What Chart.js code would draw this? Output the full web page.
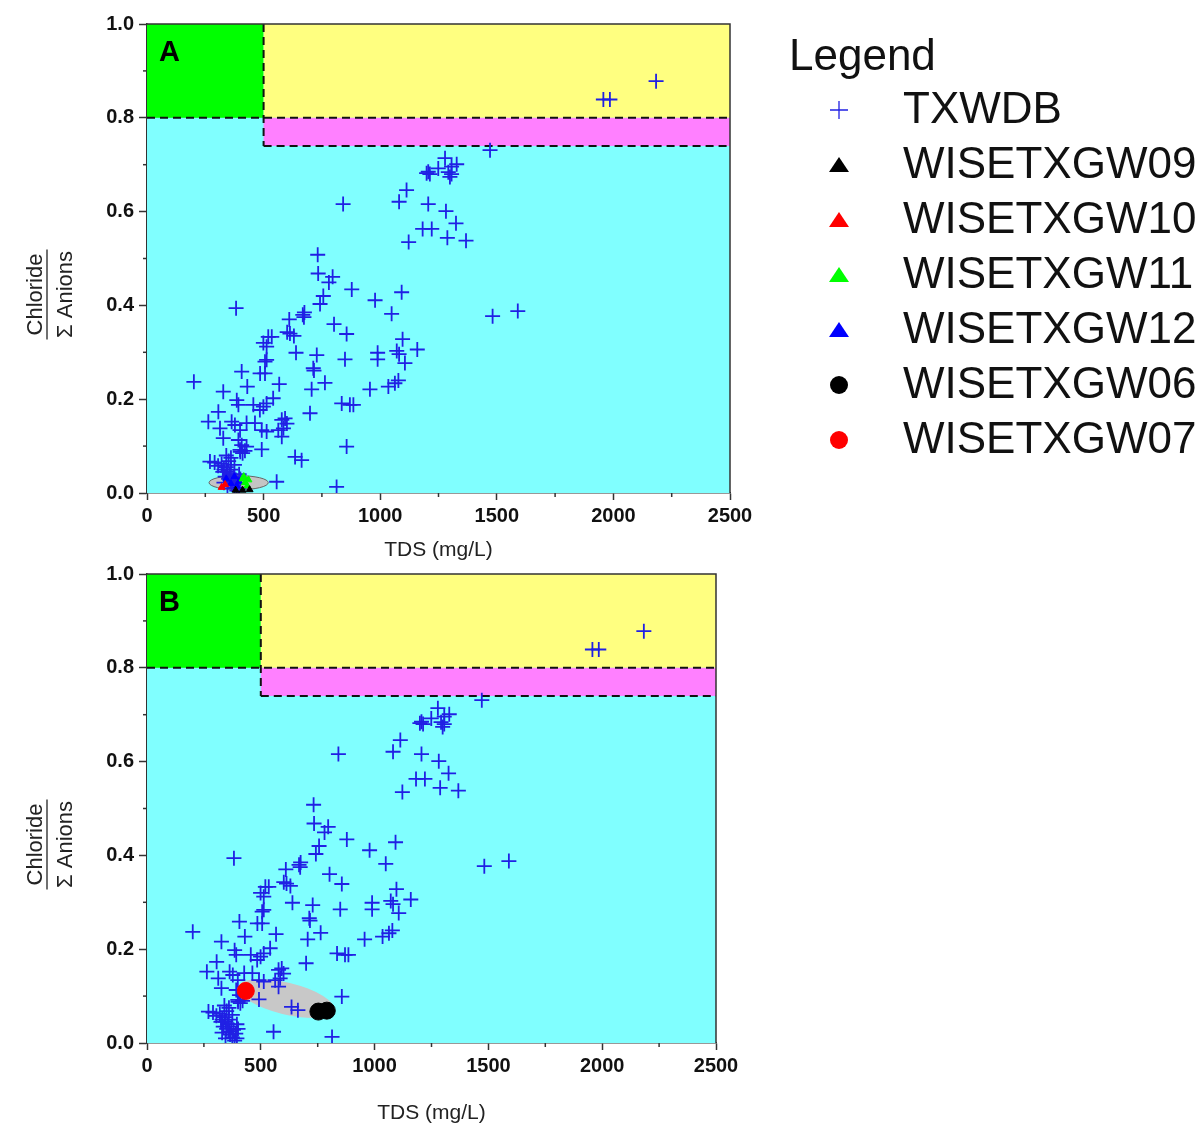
<!DOCTYPE html>
<html><head><meta charset="utf-8">
<script src="https://cdn.jsdelivr.net/npm/chart.js@4.4.1/dist/chart.umd.min.js"></script>
<style>
html,body{margin:0;padding:0;background:#fff;width:1204px;height:1128px;overflow:hidden;font-family:"Liberation Sans",Arial,sans-serif;}
#ca{position:absolute;left:0;top:0;}
#cb{position:absolute;left:0;top:550px;}
#legend{position:absolute;left:0;top:0;width:1204px;height:480px;pointer-events:none;}
.lg{position:absolute;font-size:44px;line-height:44px;color:#111;white-space:nowrap;}
svg.mk{position:absolute;}
</style></head><body>
<canvas id="ca" width="770" height="563"></canvas>
<canvas id="cb" width="756" height="578"></canvas>
<div id="legend"></div>
<script>
// ---------- DATA ----------
const txwdbTDS = [2183,1957,1985,1471,1278,1328,1306,1249,1206,1213,1199,1292,1306,1299,1113,1081,1206,841,1282,1325,1182,1221,1288,1368,1122,732,
 734,796,780,878,756,742,978,1092,1049,1482,1590,382,675,673,668,610,802,613,630,601,856,1096,1159,1071,1081,1106,989,989,849,728,713,639,
 499,520,535,513,513,506,406,485,506,716,201,327,430,567,706,763,956,1035,1063,1078,541,385,392,306,263,835,870,885,699,456,484,499,513,
 363,377,399,427,463,578,592,585,563,492,513,313,327,392,406,399,578,427,492,856,635,663,556,813,270,600,
 290,305,320,330,340,345,355,335,350,360,370,380,365,375,390,385,345,330,395,400,360,375,410,420,400,350,360,340,325,395];
const txwdbCl = [0.878,0.839,0.839,0.731,0.714,0.701,0.696,0.692,0.685,0.680,0.682,0.684,0.680,0.674,0.646,0.621,0.616,0.616,0.601,0.575,0.563,0.563,0.544,0.538,0.535,0.508,
 0.468,0.461,0.449,0.434,0.420,0.403,0.411,0.428,0.382,0.377,0.388,0.394,0.385,0.375,0.380,0.370,0.360,0.340,0.335,0.343,0.339,0.328,0.306,0.303,0.296,0.277,0.299,0.285,0.285,0.294,0.266,0.299,
 0.320,0.333,0.333,0.312,0.284,0.280,0.259,0.255,0.255,0.261,0.237,0.216,0.227,0.232,0.221,0.235,0.221,0.227,0.234,0.240,0.202,0.198,0.188,0.173,0.152,0.191,0.188,0.188,0.170,0.188,0.177,0.184,0.191,
 0.152,0.145,0.134,0.149,0.149,0.156,0.159,0.138,0.134,0.134,0.131,0.138,0.117,0.113,0.102,0.092,0.120,0.099,0.093,0.099,0.077,0.070,0.024,0.013,0.067,0.148,
 0.065,0.058,0.062,0.050,0.055,0.045,0.040,0.035,0.030,0.025,0.035,0.028,0.018,0.012,0.020,0.005,0.010,0.022,0.040,0.030,0.050,0.060,0.085,0.090,0.088,0.068,0.075,0.080,0.045,0.010];
const gw09TDS = [380,410,440];          const gw09Cl = [0.006,0.006,0.007];
const gw10TDS = [320,335];              const gw10Cl = [0.012,0.018];
const gw11TDS = [410,420,430,415,435];  const gw11Cl = [0.030,0.022,0.015,0.035,0.028];
const gw12TDS = [340,360,375,385,395];  const gw12Cl = [0.030,0.020,0.035,0.015,0.025];
const gw06TDS = [753,790];              const gw06Cl = [0.067,0.069];
const gw07TDS = [434];                  const gw07Cl = [0.111];

// classification zones (TDS range, Cl ratio range)
const zoneNames = ['fresh','freshHighCl','saline','transition'];
const zoneTDS   = [[0,2500],[0,500],[500,2500],[500,2500]];
const zoneCl    = [[0,1],[0.8,1],[0.8,1],[0.74,0.8]];
// dashed boundaries [tds0, cl0, tds1, cl1]
const boundaryLines = [[0,0.8,2500,0.8],[500,1,500,0.74],[500,0.74,2500,0.74]];
// ellipses: center, major-axis end, minor-axis end (data units)
const ellipseA = [[393,0.022],[520,0.022],[393,0.037]];
const ellipseB = [[611,0.095],[822,0.070],[594,0.128]];

const xTickVals = [0,250,500,750,1000,1250,1500,1750,2000,2250,2500];
const xTickLabels = ['0','','500','','1000','','1500','','2000','','2500'];
const yTickVals = [0,0.1,0.2,0.3,0.4,0.5,0.6,0.7,0.8,0.9,1.0];
const yTickLabels = ['0.0','','0.2','','0.4','','0.6','','0.8','','1.0'];

const seriesNames = ['TXWDB','WISETXGW09','WISETXGW10','WISETXGW11','WISETXGW12','WISETXGW06','WISETXGW07'];
// ---------- STYLE ----------
const FONT = '"Liberation Sans", Arial, sans-serif';
const zoneColors = ['#80FFFF','#00FF00','#FFFF80','#FF80FF'];
const crossColor = '#2020E4';
const seriesStyle = {
  TXWDB:{shape:'cross',color:crossColor},
  WISETXGW09:{shape:'triangle',color:'#000000'},
  WISETXGW10:{shape:'triangle',color:'#FF0000'},
  WISETXGW11:{shape:'triangle',color:'#00FF00'},
  WISETXGW12:{shape:'triangle',color:'#0000FF'},
  WISETXGW06:{shape:'circle',color:'#000000'},
  WISETXGW07:{shape:'circle',color:'#FF0000'}
};
const AXC = '#333333';

function pts(xs, ys){ return xs.map((x,i)=>({x:x,y:ys[i]})); }

function isMajorTick(arrVals, arrLabels, v){
  const i = arrVals.findIndex(t=>Math.abs(t-v)<1e-6);
  return i>=0 && arrLabels[i] !== '';
}

const backgroundPlugin = {
  id:'zones',
  beforeDatasetsDraw(chart, args, opts){
    const {ctx, chartArea:ca, scales:{x,y}} = chart;
    ctx.save();
    ctx.beginPath(); ctx.rect(ca.left, ca.top, ca.right-ca.left, ca.bottom-ca.top); ctx.clip();
    zoneTDS.forEach((r,i)=>{
      const x0=x.getPixelForValue(r[0]), x1=x.getPixelForValue(r[1]);
      const y0=y.getPixelForValue(zoneCl[i][1]), y1=y.getPixelForValue(zoneCl[i][0]);
      ctx.fillStyle = zoneColors[i];
      ctx.fillRect(x0,y0,x1-x0,y1-y0);
    });
    const e = opts.ellipse;
    if (e){
      const cx=x.getPixelForValue(e[0][0]), cy=y.getPixelForValue(e[0][1]);
      const ax=x.getPixelForValue(e[1][0])-cx, ay=y.getPixelForValue(e[1][1])-cy;
      const bx=x.getPixelForValue(e[2][0])-cx, by=y.getPixelForValue(e[2][1])-cy;
      ctx.beginPath();
      ctx.ellipse(cx,cy,Math.hypot(ax,ay),Math.hypot(bx,by),Math.atan2(ay,ax),0,Math.PI*2);
      ctx.fillStyle = opts.ellipseFill;
      ctx.fill();
      if (opts.ellipseStroke){ ctx.strokeStyle=opts.ellipseStroke; ctx.lineWidth=1; ctx.stroke(); }
    }
    ctx.restore();
    ctx.save();
    ctx.strokeStyle='#111'; ctx.lineWidth=2; ctx.setLineDash([8,5]);
    boundaryLines.forEach(l=>{
      ctx.beginPath();
      ctx.moveTo(x.getPixelForValue(l[0]), y.getPixelForValue(l[1]));
      ctx.lineTo(x.getPixelForValue(l[2]), y.getPixelForValue(l[3]));
      ctx.stroke();
    });
    ctx.restore();
    ctx.save();
    ctx.fillStyle='#000'; ctx.font='bold 29px '+FONT; ctx.textBaseline='alphabetic'; ctx.textAlign='left';
    ctx.fillText(opts.letter, ca.left+12, ca.top+37);
    ctx.restore();
  },
  afterDraw(chart){
    const {ctx, chartArea:ca, scales:{x,y}} = chart;
    ctx.save();
    ctx.strokeStyle=AXC; ctx.lineWidth=1.5;
    ctx.beginPath(); ctx.moveTo(ca.left,ca.top); ctx.lineTo(ca.right,ca.top); ctx.lineTo(ca.right,ca.bottom); ctx.stroke();
    x.ticks.forEach(t=>{ if(!isMajorTick(xTickVals,xTickLabels,t.value)){ const px=x.getPixelForValue(t.value); ctx.beginPath(); ctx.moveTo(px,ca.bottom); ctx.lineTo(px,ca.bottom+4); ctx.stroke(); }});
    y.ticks.forEach(t=>{ if(!isMajorTick(yTickVals,yTickLabels,t.value)){ const py=y.getPixelForValue(t.value); ctx.beginPath(); ctx.moveTo(ca.left-4,py); ctx.lineTo(ca.left,py); ctx.stroke(); }});
    const cy=(ca.top+ca.bottom)/2+36;
    ctx.fillStyle='#222'; ctx.font='22px '+FONT; ctx.textAlign='center'; ctx.textBaseline='alphabetic';
    ctx.save(); ctx.translate(42,cy); ctx.rotate(-Math.PI/2); ctx.fillText('Chloride',0,0); ctx.restore();
    ctx.save(); ctx.translate(72,cy); ctx.rotate(-Math.PI/2); ctx.fillText('\u03A3 Anions',0,0); ctx.restore();
    ctx.strokeStyle='#222'; ctx.lineWidth=1.3;
    ctx.beginPath(); ctx.moveTo(47,cy-45); ctx.lineTo(47,cy+45); ctx.stroke();
    ctx.restore();
  }
};

function ds(name, xs, ys, order){
  const s = seriesStyle[name];
  const o = {label:name, data:pts(xs,ys), order:order, showLine:false};
  if (s.shape==='cross'){
    Object.assign(o,{pointStyle:'cross', pointRadius:7.5, pointBorderColor:s.color, pointBackgroundColor:s.color, pointBorderWidth:1.8});
  } else if (s.shape==='triangle'){
    Object.assign(o,{pointStyle:'triangle', pointRadius:4, pointBorderColor:s.color, pointBackgroundColor:s.color, pointBorderWidth:1});
  } else {
    Object.assign(o,{pointStyle:'circle', pointRadius:8.5, pointBorderColor:s.color, pointBackgroundColor:s.color, pointBorderWidth:1});
  }
  return o;
}

function makeOptions(letter, ellipse, ellipseFill, ellipseStroke, xAxisHeight, titlePadBottom){
  return {
    responsive:false, animation:false, devicePixelRatio:1,
    layout:{padding:{top:24,right:40,bottom:0,left:0}},
    plugins:{legend:{display:false}, tooltip:{enabled:false},
      zones:{letter:letter, ellipse:ellipse, ellipseFill:ellipseFill, ellipseStroke:ellipseStroke}},
    scales:{
      x:{type:'linear', min:0, max:2500,
        afterBuildTicks:s=>{ s.ticks = xTickVals.map(v=>({value:v})); },
        afterFit:s=>{ s.height = xAxisHeight; },
        ticks:{autoSkip:false, maxRotation:0, padding:4, color:'#111', font:{family:FONT,size:20,weight:'bold'},
          callback:(v)=>{ const i=xTickVals.indexOf(v); return i>=0?xTickLabels[i]:''; }},
        grid:{display:true, drawOnChartArea:false, drawTicks:true, tickLength:7, tickWidth:1.5,
          tickColor:(c)=> isMajorTick(xTickVals,xTickLabels,c.tick?c.tick.value:NaN)?AXC:'rgba(0,0,0,0)'},
        border:{display:true, color:AXC, width:1.5},
        title:{display:true, text:'TDS (mg/L)', color:'#222', font:{family:FONT,size:21}, padding:{top:0,bottom:titlePadBottom}}
      },
      y:{type:'linear', min:0, max:1,
        afterBuildTicks:s=>{ s.ticks = yTickVals.map(v=>({value:v})); },
        afterFit:s=>{ s.width = 147; },
        ticks:{autoSkip:false, padding:5, color:'#111', font:{family:FONT,size:20,weight:'bold'},
          callback:(v)=>{ const i=yTickVals.findIndex(t=>Math.abs(t-v)<1e-6); return i>=0?yTickLabels[i]:''; }},
        grid:{display:true, drawOnChartArea:false, drawTicks:true, tickLength:8, tickWidth:1.5,
          tickColor:(c)=> isMajorTick(yTickVals,yTickLabels,c.tick?c.tick.value:NaN)?AXC:'rgba(0,0,0,0)'},
        border:{display:true, color:AXC, width:1.5},
        title:{display:false}
      }
    }
  };
}

new Chart(document.getElementById('ca'), {
  type:'scatter',
  data:{datasets:[
    ds('TXWDB', txwdbTDS, txwdbCl, 2),
    ds('WISETXGW09', gw09TDS, gw09Cl, 1),
    ds('WISETXGW10', gw10TDS, gw10Cl, 1),
    ds('WISETXGW11', gw11TDS, gw11Cl, 1),
    ds('WISETXGW12', gw12TDS, gw12Cl, 1)
  ]},
  options: makeOptions('A', ellipseA, '#C4C4C4', '#666666', 70, 0),
  plugins:[backgroundPlugin]
});

new Chart(document.getElementById('cb'), {
  type:'scatter',
  data:{datasets:[
    ds('TXWDB', txwdbTDS, txwdbCl, 2),
    ds('WISETXGW06', gw06TDS, gw06Cl, 1),
    ds('WISETXGW07', gw07TDS, gw07Cl, 1)
  ]},
  options: makeOptions('B', ellipseB, '#C8C8C8', null, 85, 2),
  plugins:[backgroundPlugin]
});

// ---------- LEGEND ----------
(function(){
  const root=document.getElementById('legend');
  const title=document.createElement('div'); title.className='lg'; title.textContent='Legend';
  title.style.left='789px'; title.style.top='33px'; root.appendChild(title);
  seriesNames.forEach((n,i)=>{
    const top = 86 + i*55;
    const t=document.createElement('div'); t.className='lg'; t.textContent=n;
    t.style.left='903px'; t.style.top=top+'px'; root.appendChild(t);
    const cy = 110 + i*55;
    const st = seriesStyle[n];
    const svg=document.createElementNS('http://www.w3.org/2000/svg','svg');
    svg.setAttribute('class','mk'); svg.setAttribute('width','24'); svg.setAttribute('height','24');
    svg.style.left=(839-12)+'px'; svg.style.top=(cy-12)+'px';
    let inner='';
    if(st.shape==='cross') inner='<path d="M3 12 H21 M12 3 V21" stroke="'+st.color+'" stroke-width="1.3" fill="none"/>';
    else if(st.shape==='triangle') inner='<polygon points="2,19 22,19 12,4" fill="'+st.color+'"/>';
    else inner='<circle cx="12" cy="12" r="9" fill="'+st.color+'"/>';
    svg.innerHTML=inner; root.appendChild(svg);
  });
})();
</script>
</body></html>
